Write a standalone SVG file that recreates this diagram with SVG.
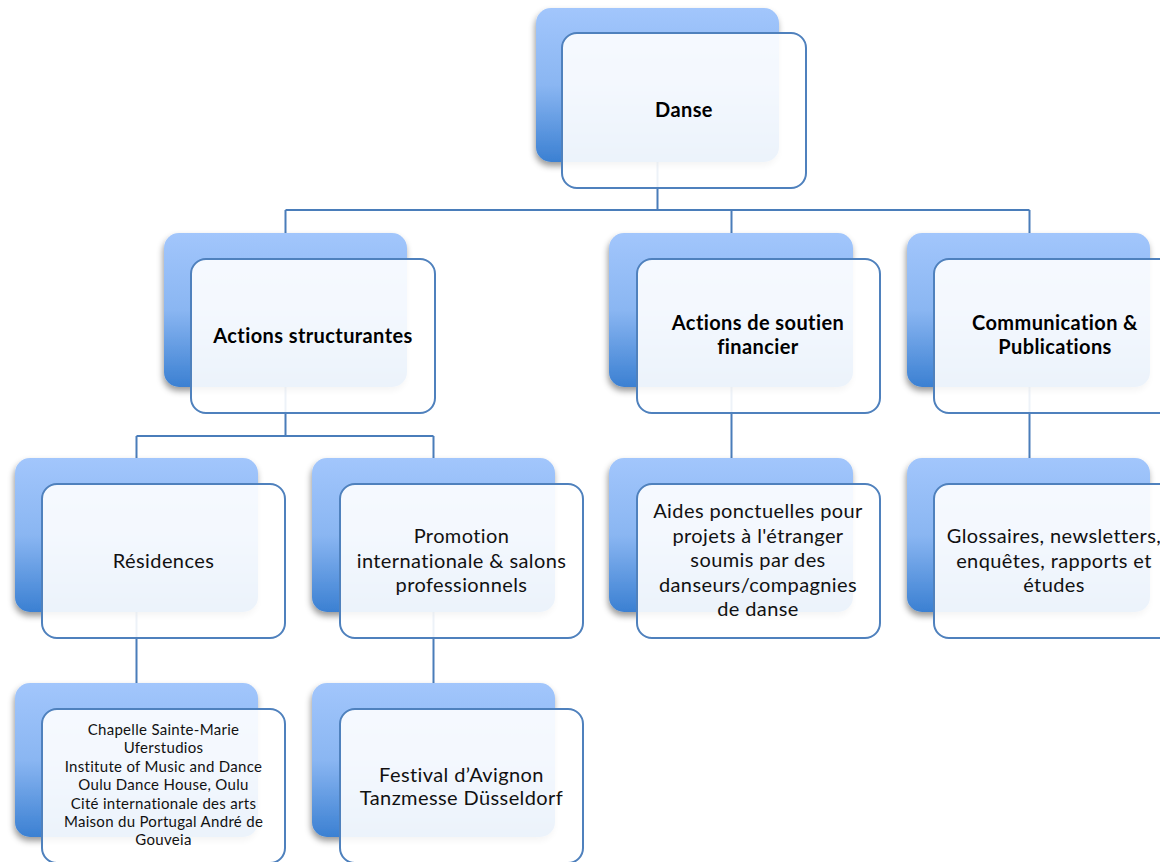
<svg xmlns="http://www.w3.org/2000/svg" width="1160" height="862" viewBox="0 0 1160 862">
<defs>
<linearGradient id="bg" x1="0" y1="0" x2="0" y2="1">
<stop offset="0" stop-color="#a2c6fc"/>
<stop offset="0.5" stop-color="#8ab6f2"/>
<stop offset="1" stop-color="#3b80d2"/>
</linearGradient>
<filter id="sh" x="-10%" y="-10%" width="125%" height="130%">
<feDropShadow dx="-1" dy="4" stdDeviation="3" flood-color="#000" flood-opacity="0.4"/>
</filter>
</defs>
<style>
.back{fill:url(#bg);filter:url(#sh)}
.front{fill:#ffffff;fill-opacity:0.9;stroke:#4f81bd;stroke-width:2}
.conn{fill:none;stroke:#4a7dba;stroke-width:2}
.t{font-family:Lato,"Open Sans","Liberation Sans",sans-serif;font-size:20px;letter-spacing:0.4px;fill:#111;text-anchor:middle}
.b{font-weight:bold;fill:#000}
.s{font-size:15px;letter-spacing:0.3px}
</style>
<rect width="1160" height="862" fill="#fff"/>
<g id="connectors">
<path class="conn" d="M657.5,100V210M285.5,210H1029.5M285.5,210V233M731.5,210V233M1029.5,210V233"/>
<path class="conn" d="M285.5,300V436M136.5,436H433.5M136.5,436V458M433.5,436V458"/>
<path class="conn" d="M731.5,300V458M1029.5,300V458"/>
<path class="conn" d="M136.5,530V683M433.5,530V683"/>
</g>
<g id="n-danse">
<rect class="back" x="536" y="8" width="243" height="154" rx="15"/>
<rect class="front" x="562" y="33" width="244" height="155" rx="15"/>
<text class="t b" x="684" y="117">Danse</text>
</g>
<g id="n-actions-structurantes">
<rect class="back" x="164" y="233" width="243" height="154" rx="15"/>
<rect class="front" x="191" y="259" width="244" height="154" rx="15"/>
<text class="t b" x="313" y="343">Actions structurantes</text>
</g>
<g id="n-soutien">
<rect class="back" x="609" y="233" width="244" height="154" rx="15"/>
<rect class="front" x="637" y="259" width="243" height="154" rx="15"/>
<text class="t b" x="758" y="330">Actions de soutien</text>
<text class="t b" x="758" y="354">financier</text>
</g>
<g id="n-communication">
<rect class="back" x="907" y="233" width="243" height="154" rx="15"/>
<rect class="front" x="934" y="259" width="244" height="154" rx="15"/>
<text class="t b" x="1055" y="330">Communication &amp;</text>
<text class="t b" x="1055" y="354">Publications</text>
</g>
<g id="n-residences">
<rect class="back" x="15" y="458" width="243" height="154" rx="15"/>
<rect class="front" x="42" y="484" width="243" height="154" rx="15"/>
<text class="t" x="163.5" y="568">Résidences</text>
</g>
<g id="n-promotion">
<rect class="back" x="312" y="458" width="243" height="154" rx="15"/>
<rect class="front" x="340" y="484" width="243" height="154" rx="15"/>
<text class="t" x="461.5" y="543">Promotion</text>
<text class="t" x="461.5" y="568">internationale &amp; salons</text>
<text class="t" x="461.5" y="592">professionnels</text>
</g>
<g id="n-aides">
<rect class="back" x="609" y="458" width="244" height="154" rx="15"/>
<rect class="front" x="637" y="484" width="243" height="154" rx="15"/>
<text class="t" x="758" y="518">Aides ponctuelles pour</text>
<text class="t" x="758" y="542.6">projets à l'étranger</text>
<text class="t" x="758" y="567.2">soumis par des</text>
<text class="t" x="758" y="591.8">danseurs/compagnies</text>
<text class="t" x="758" y="616.4">de danse</text>
</g>
<g id="n-glossaires">
<rect class="back" x="907" y="458" width="243" height="154" rx="15"/>
<rect class="front" x="934" y="484" width="244" height="154" rx="15"/>
<text class="t" x="1054" y="543">Glossaires, newsletters,</text>
<text class="t" x="1054" y="568">enquêtes, rapports et</text>
<text class="t" x="1054" y="592">études</text>
</g>
<g id="n-lieux">
<rect class="back" x="15" y="683" width="243" height="154" rx="15"/>
<rect class="front" x="42" y="709" width="243" height="154" rx="15"/>
<text class="t s" x="163.5" y="735">Chapelle Sainte-Marie</text>
<text class="t s" x="163.5" y="753.4">Uferstudios</text>
<text class="t s" x="163.5" y="771.8">Institute of Music and Dance</text>
<text class="t s" x="163.5" y="790.2">Oulu Dance House, Oulu</text>
<text class="t s" x="163.5" y="808.6">Cité internationale des arts</text>
<text class="t s" x="163.5" y="827">Maison du Portugal André de</text>
<text class="t s" x="163.5" y="845.4">Gouveia</text>
</g>
<g id="n-festivals">
<rect class="back" x="312" y="683" width="243" height="154" rx="15"/>
<rect class="front" x="340" y="709" width="243" height="154" rx="15"/>
<text class="t" x="461.5" y="782">Festival d’Avignon</text>
<text class="t" x="461.5" y="805">Tanzmesse Düsseldorf</text>
</g>
</svg>
